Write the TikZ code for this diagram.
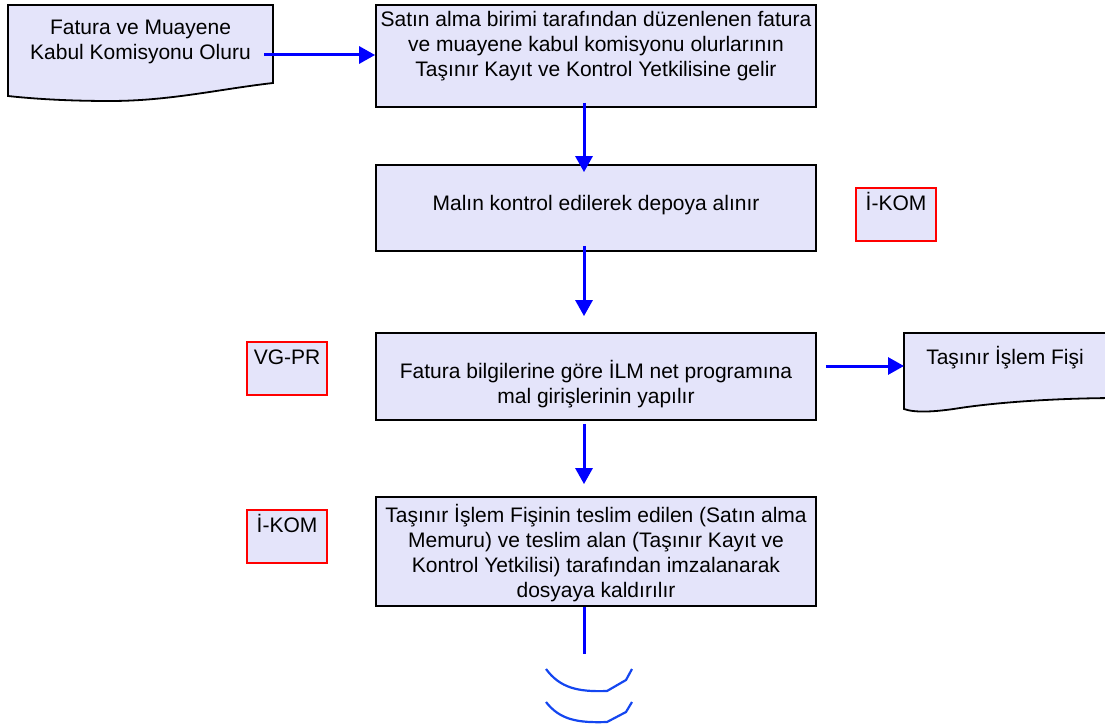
\documentclass[tikz,border=0pt]{standalone}
\usepackage{fontspec}
\setmainfont{Liberation Sans}
\usetikzlibrary{arrows.meta,shadows}
\definecolor{kutu}{RGB}{228,228,250}
\definecolor{akis}{RGB}{0,0,255}
\definecolor{baglanti}{RGB}{20,70,240}
\begin{document}
\begin{tikzpicture}[x=1pt,y=-1pt,
  every node/.style={inner sep=0pt, font=\fontsize{21}{25}\selectfont},
  islem/.style={draw=black, line width=1.8pt, fill=kutu, minimum width=440pt,
    drop shadow={shadow xshift=1pt, shadow yshift=-1pt, fill=black!40}},
  yazi/.style={align=center},
  belge/.style={draw=black, line width=1.8pt, fill=kutu},
  kod/.style={draw=red, line width=2pt, fill=kutu, minimum width=80pt, minimum height=53pt,
    text height=20pt, text depth=28pt},
  akisok/.style={draw=akis, line width=3pt, -{Triangle[length=16pt,width=17pt]}}]
\useasboundingbox (0,0) rectangle (1105,725);
\clip (0,0) rectangle (1105,725);

\draw[belge] (8,5) -- (273,5) -- (273,83) .. controls (220,89) and (170,101) .. (110,101) .. controls (70,101) and (35,99) .. (8,96) -- cycle;
\node[yazi] (olur) at (140.5,42) {Fatura ve Muayene\\Kabul Komisyonu Oluru};
\coordinate (olurkenar) at (273,55);

\node[islem, minimum height=102pt] (gelir) at (596,56) {};
\node[yazi] at (596,46) {Satın alma birimi tarafından düzenlenen fatura\\ve muayene kabul komisyonu olurlarının\\Taşınır Kayıt ve Kontrol Yetkilisine gelir};
\node[islem, minimum height=86pt] (kontrol) at (596,208) {};
\node[yazi] at (596,205) {Malın kontrol edilerek depoya alınır};
\node[islem, minimum height=87pt] (giris) at (596,376.5) {};
\node[yazi] at (596,384) {Fatura bilgilerine göre İLM net programına\\mal girişlerinin yapılır};
\node[islem, minimum height=109pt] (imza) at (596,551.5) {};
\node[yazi] at (596,553) {Taşınır İşlem Fişinin teslim edilen (Satın alma\\Memuru) ve teslim alan (Taşınır Kayıt ve\\Kontrol Yetkilisi) tarafından imzalanarak\\dosyaya kaldırılır};

\node[kod] (ikom1) at (896,214.5) {İ-KOM};
\node[kod] (vgpr) at (287,368.5) {VG-PR};
\node[kod] (ikom2) at (287,536.5) {İ-KOM};

\draw[belge] (904,333) -- (1120,333) -- (1120,398) .. controls (1060,398) and (1000,402) .. (960,408) .. controls (935,412) and (915,413) .. (904,409) -- cycle;
\node[yazi] (fis) at (1005,358) {Taşınır İşlem Fişi};
\coordinate (fisgiris) at (904,366);

\draw[akisok, shorten <=-9pt] (olurkenar) -- (gelir.west |- olurkenar);
\draw[akisok] ([xshift=-12pt,yshift=5pt]gelir.south) -- ([xshift=-12pt,yshift=-8pt]kontrol.north);
\draw[akisok] ([xshift=-12pt,yshift=6pt]kontrol.south) -- ([xshift=-12pt,yshift=16pt]giris.north);
\draw[akisok] ([xshift=-12pt,yshift=-3pt]giris.south) -- ([xshift=-12pt,yshift=12pt]imza.north);
\draw[akisok, shorten <=9pt] (giris.east |- fisgiris) -- (fisgiris);

\coordinate (sayfa) at (584,654);
\draw[akis, line width=3pt] ([xshift=-12pt]imza.south) -- (sayfa);
\draw[baglanti, line width=2.2pt] (546,669) .. controls (560,688) and (578,692) .. (607,691) -- (626,680) -- (632,669);
\draw[baglanti, line width=2.2pt] (546,702) .. controls (560,720) and (578,723) .. (607,722) -- (626,712) -- (632,702);
\end{tikzpicture}
\end{document}
